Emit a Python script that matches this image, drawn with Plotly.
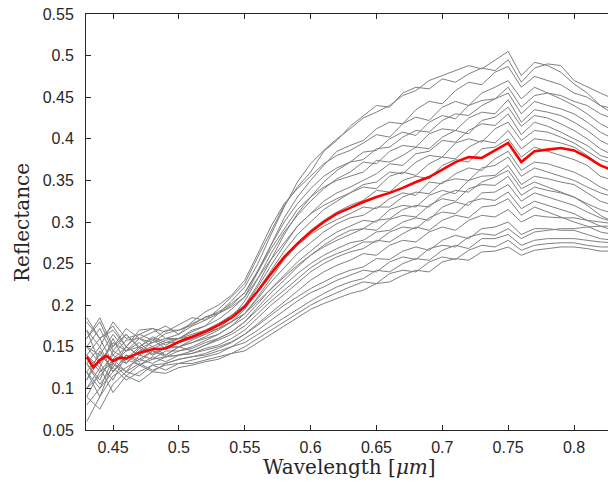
import plotly.graph_objects as go

# Wavelength grid (um) for the individual spectra
wavelength = [0.43, 0.44, 0.45, 0.46, 0.47, 0.48, 0.49, 0.50, 0.51, 0.52,
              0.53, 0.54, 0.55, 0.56, 0.57, 0.58, 0.59, 0.60, 0.61, 0.62,
              0.63, 0.64, 0.65, 0.66, 0.67, 0.68, 0.69, 0.70, 0.71, 0.72,
              0.73, 0.74, 0.75, 0.76, 0.77, 0.78, 0.79, 0.80, 0.81, 0.82, 0.83]

# Individual reflectance spectra (grey)
spectrum_01 = [0.150,0.172,0.140,0.158,0.160,0.155,0.166,0.170,0.176,0.186,0.190,0.205,0.222,0.250,0.285,0.318,0.348,0.370,0.386,0.400,0.412,0.425,0.432,0.440,0.452,0.458,0.470,0.476,0.482,0.488,0.484,0.495,0.505,0.476,0.492,0.488,0.480,0.466,0.455,0.440,0.430]
spectrum_02 = [0.180,0.160,0.175,0.150,0.170,0.172,0.168,0.176,0.185,0.182,0.195,0.210,0.226,0.258,0.290,0.320,0.342,0.360,0.385,0.398,0.415,0.428,0.440,0.438,0.455,0.462,0.460,0.472,0.468,0.478,0.485,0.482,0.495,0.468,0.485,0.490,0.488,0.470,0.462,0.455,0.448]
spectrum_03 = [0.120,0.140,0.165,0.145,0.150,0.160,0.152,0.160,0.168,0.175,0.183,0.195,0.210,0.240,0.272,0.305,0.330,0.350,0.368,0.385,0.392,0.398,0.412,0.420,0.418,0.435,0.445,0.442,0.458,0.468,0.465,0.480,0.487,0.462,0.475,0.470,0.465,0.455,0.450,0.440,0.436]
spectrum_04 = [0.160,0.185,0.150,0.172,0.160,0.168,0.175,0.165,0.180,0.192,0.200,0.212,0.230,0.262,0.295,0.322,0.340,0.355,0.370,0.380,0.386,0.395,0.405,0.402,0.418,0.426,0.422,0.438,0.445,0.440,0.455,0.462,0.470,0.448,0.462,0.455,0.448,0.440,0.430,0.418,0.410]
spectrum_05 = [0.130,0.110,0.145,0.135,0.150,0.142,0.150,0.155,0.162,0.170,0.176,0.188,0.200,0.225,0.255,0.285,0.310,0.330,0.348,0.362,0.372,0.384,0.386,0.400,0.408,0.404,0.420,0.428,0.424,0.440,0.446,0.448,0.462,0.438,0.452,0.455,0.452,0.445,0.440,0.430,0.424]
spectrum_06 = [0.170,0.150,0.180,0.160,0.165,0.158,0.170,0.170,0.178,0.185,0.192,0.202,0.215,0.242,0.272,0.300,0.322,0.340,0.355,0.365,0.372,0.375,0.388,0.390,0.402,0.410,0.408,0.422,0.430,0.428,0.440,0.448,0.455,0.430,0.445,0.440,0.436,0.430,0.420,0.408,0.400]
spectrum_07 = [0.140,0.125,0.160,0.130,0.145,0.150,0.140,0.150,0.158,0.165,0.172,0.185,0.205,0.232,0.262,0.288,0.308,0.325,0.340,0.352,0.360,0.372,0.370,0.385,0.392,0.390,0.406,0.412,0.410,0.425,0.432,0.430,0.447,0.420,0.435,0.432,0.428,0.420,0.410,0.398,0.390]
spectrum_08 = [0.110,0.135,0.150,0.165,0.148,0.155,0.160,0.160,0.170,0.175,0.190,0.200,0.215,0.240,0.268,0.292,0.315,0.330,0.342,0.350,0.355,0.360,0.374,0.372,0.380,0.390,0.388,0.402,0.410,0.406,0.422,0.426,0.438,0.415,0.428,0.425,0.418,0.410,0.400,0.388,0.380]
spectrum_09 = [0.150,0.140,0.125,0.150,0.140,0.158,0.148,0.155,0.160,0.168,0.175,0.185,0.200,0.222,0.248,0.272,0.295,0.310,0.325,0.335,0.342,0.350,0.358,0.370,0.368,0.382,0.385,0.398,0.396,0.410,0.418,0.416,0.430,0.405,0.420,0.415,0.408,0.400,0.392,0.380,0.375]
spectrum_10 = [0.090,0.120,0.140,0.130,0.148,0.140,0.150,0.150,0.155,0.162,0.170,0.180,0.195,0.218,0.242,0.265,0.285,0.300,0.315,0.325,0.335,0.345,0.348,0.360,0.358,0.372,0.380,0.378,0.395,0.400,0.396,0.412,0.420,0.398,0.410,0.408,0.402,0.395,0.385,0.375,0.370]
spectrum_11 = [0.185,0.160,0.170,0.150,0.165,0.172,0.160,0.165,0.175,0.182,0.190,0.198,0.210,0.232,0.255,0.275,0.295,0.310,0.320,0.328,0.335,0.342,0.340,0.355,0.360,0.356,0.370,0.378,0.376,0.390,0.398,0.395,0.410,0.388,0.400,0.398,0.395,0.390,0.380,0.368,0.360]
spectrum_12 = [0.130,0.150,0.120,0.140,0.135,0.145,0.138,0.145,0.150,0.158,0.165,0.175,0.190,0.210,0.232,0.255,0.275,0.290,0.302,0.312,0.320,0.326,0.338,0.336,0.350,0.355,0.352,0.368,0.375,0.372,0.388,0.390,0.400,0.378,0.390,0.385,0.380,0.375,0.368,0.355,0.350]
spectrum_13 = [0.170,0.130,0.155,0.145,0.160,0.150,0.158,0.160,0.165,0.170,0.178,0.188,0.200,0.218,0.238,0.255,0.272,0.285,0.295,0.303,0.310,0.318,0.316,0.328,0.335,0.332,0.348,0.346,0.358,0.365,0.362,0.376,0.385,0.362,0.372,0.370,0.365,0.360,0.352,0.342,0.335]
spectrum_14 = [0.100,0.115,0.135,0.150,0.140,0.148,0.155,0.155,0.160,0.165,0.172,0.180,0.190,0.208,0.228,0.245,0.262,0.275,0.288,0.298,0.305,0.308,0.318,0.318,0.330,0.336,0.334,0.348,0.352,0.350,0.365,0.368,0.378,0.355,0.365,0.360,0.355,0.350,0.342,0.335,0.330]
spectrum_15 = [0.140,0.160,0.130,0.145,0.155,0.140,0.148,0.150,0.155,0.160,0.165,0.175,0.185,0.202,0.220,0.236,0.252,0.265,0.278,0.288,0.295,0.302,0.300,0.315,0.320,0.318,0.332,0.338,0.334,0.350,0.355,0.356,0.368,0.345,0.355,0.352,0.348,0.345,0.335,0.325,0.320]
spectrum_16 = [0.080,0.100,0.120,0.135,0.128,0.135,0.138,0.140,0.145,0.152,0.160,0.168,0.180,0.198,0.215,0.230,0.246,0.260,0.272,0.282,0.290,0.292,0.302,0.304,0.315,0.320,0.318,0.332,0.338,0.336,0.348,0.354,0.362,0.340,0.348,0.342,0.336,0.330,0.322,0.315,0.310]
spectrum_17 = [0.160,0.180,0.145,0.165,0.150,0.162,0.155,0.160,0.162,0.168,0.172,0.180,0.190,0.205,0.220,0.234,0.248,0.260,0.270,0.278,0.285,0.292,0.290,0.303,0.308,0.306,0.320,0.328,0.325,0.340,0.345,0.344,0.355,0.332,0.342,0.338,0.335,0.330,0.320,0.308,0.300]
spectrum_18 = [0.120,0.090,0.130,0.120,0.140,0.135,0.145,0.145,0.148,0.155,0.160,0.168,0.180,0.195,0.210,0.224,0.238,0.250,0.260,0.268,0.275,0.278,0.288,0.290,0.300,0.305,0.302,0.318,0.324,0.320,0.335,0.336,0.345,0.325,0.335,0.330,0.325,0.320,0.312,0.305,0.300]
spectrum_19 = [0.150,0.130,0.110,0.140,0.132,0.145,0.140,0.150,0.145,0.152,0.158,0.165,0.175,0.190,0.205,0.218,0.232,0.245,0.255,0.262,0.268,0.276,0.276,0.288,0.294,0.292,0.305,0.312,0.310,0.324,0.328,0.326,0.336,0.316,0.325,0.320,0.315,0.310,0.302,0.295,0.290]
spectrum_20 = [0.060,0.090,0.115,0.125,0.135,0.130,0.138,0.140,0.142,0.148,0.152,0.160,0.170,0.185,0.200,0.213,0.226,0.240,0.250,0.258,0.264,0.268,0.278,0.276,0.286,0.294,0.290,0.302,0.308,0.305,0.318,0.320,0.328,0.308,0.318,0.312,0.306,0.300,0.295,0.288,0.285]
spectrum_21 = [0.140,0.120,0.130,0.115,0.128,0.120,0.130,0.135,0.138,0.142,0.148,0.155,0.165,0.178,0.192,0.205,0.218,0.230,0.240,0.248,0.254,0.262,0.260,0.272,0.278,0.276,0.288,0.294,0.290,0.302,0.308,0.306,0.315,0.300,0.308,0.306,0.305,0.305,0.302,0.300,0.298]
spectrum_22 = [0.110,0.145,0.120,0.140,0.128,0.138,0.132,0.140,0.142,0.146,0.150,0.156,0.165,0.176,0.188,0.200,0.210,0.220,0.228,0.236,0.242,0.246,0.256,0.255,0.265,0.270,0.266,0.278,0.284,0.280,0.292,0.294,0.300,0.285,0.292,0.292,0.290,0.290,0.285,0.280,0.278]
spectrum_23 = [0.130,0.105,0.125,0.110,0.120,0.128,0.122,0.130,0.134,0.138,0.142,0.150,0.160,0.170,0.182,0.194,0.205,0.215,0.222,0.230,0.236,0.242,0.240,0.252,0.258,0.255,0.268,0.272,0.270,0.282,0.286,0.284,0.292,0.280,0.288,0.290,0.292,0.292,0.294,0.295,0.295]
spectrum_24 = [0.090,0.075,0.105,0.120,0.115,0.128,0.130,0.135,0.138,0.140,0.145,0.150,0.155,0.165,0.175,0.186,0.196,0.205,0.214,0.222,0.228,0.232,0.242,0.240,0.250,0.256,0.254,0.266,0.272,0.268,0.280,0.280,0.285,0.272,0.278,0.280,0.280,0.280,0.278,0.276,0.275]
spectrum_25 = [0.100,0.125,0.095,0.115,0.108,0.120,0.118,0.125,0.128,0.132,0.135,0.142,0.150,0.160,0.170,0.180,0.190,0.200,0.208,0.215,0.222,0.228,0.226,0.238,0.242,0.240,0.252,0.258,0.255,0.266,0.272,0.270,0.278,0.266,0.272,0.274,0.275,0.275,0.272,0.270,0.270]
spectrum_26 = [0.120,0.100,0.135,0.120,0.130,0.122,0.128,0.130,0.130,0.134,0.138,0.142,0.145,0.155,0.165,0.175,0.185,0.195,0.202,0.208,0.214,0.218,0.226,0.228,0.236,0.242,0.240,0.252,0.256,0.254,0.264,0.265,0.270,0.260,0.266,0.268,0.270,0.270,0.268,0.265,0.265]

spectra = [spectrum_01, spectrum_02, spectrum_03, spectrum_04, spectrum_05, spectrum_06,
           spectrum_07, spectrum_08, spectrum_09, spectrum_10, spectrum_11, spectrum_12,
           spectrum_13, spectrum_14, spectrum_15, spectrum_16, spectrum_17, spectrum_18,
           spectrum_19, spectrum_20, spectrum_21, spectrum_22, spectrum_23, spectrum_24,
           spectrum_25, spectrum_26]

# Mean spectrum (red)
mean_wavelength = [0.43, 0.435, 0.44, 0.445, 0.45, 0.455, 0.46, 0.47, 0.48, 0.49,
                   0.50, 0.51, 0.52, 0.53, 0.54, 0.55, 0.56, 0.57, 0.58, 0.59,
                   0.60, 0.61, 0.62, 0.63, 0.64, 0.65, 0.66, 0.67, 0.68, 0.69,
                   0.70, 0.71, 0.72, 0.73, 0.74, 0.75, 0.76, 0.77, 0.78, 0.79,
                   0.80, 0.81, 0.82, 0.83]
mean_reflectance = [0.138, 0.125, 0.134, 0.139, 0.133, 0.137, 0.136, 0.143, 0.147, 0.148,
                    0.156, 0.162, 0.168, 0.176, 0.185, 0.198, 0.217, 0.238, 0.258, 0.274,
                    0.288, 0.300, 0.310, 0.317, 0.324, 0.330, 0.335, 0.341, 0.348, 0.354,
                    0.363, 0.372, 0.378, 0.377, 0.386, 0.395, 0.372, 0.385, 0.387, 0.389,
                    0.386, 0.378, 0.368, 0.362]

y_ticks = [0.05, 0.1, 0.15, 0.2, 0.25, 0.3, 0.35, 0.4, 0.45, 0.5, 0.55]
y_tick_labels = ["0.05", "0.1", "0.15", "0.2", "0.25", "0.3", "0.35", "0.4", "0.45", "0.5", "0.55"]
x_ticks = [0.45, 0.5, 0.55, 0.6, 0.65, 0.7, 0.75, 0.8]
x_tick_labels = ["0.45", "0.5", "0.55", "0.6", "0.65", "0.7", "0.75", "0.8"]

fig = go.Figure()
for s in spectra:
    fig.add_trace(go.Scatter(x=wavelength, y=s, mode="lines",
                             line=dict(color="rgb(128,128,128)", width=1),
                             showlegend=False, hoverinfo="skip"))
fig.add_trace(go.Scatter(x=mean_wavelength, y=mean_reflectance, mode="lines",
                         line=dict(color="rgb(255,0,0)", width=2.6),
                         showlegend=False))

axis_color = "#262626"
tick_font = dict(family="Liberation Sans, Arial, sans-serif", size=16, color=axis_color)
title_font = dict(family="DejaVu Serif, serif", size=20, color=axis_color)

fig.update_layout(
    width=608, height=484,
    margin=dict(l=86, r=0, t=14, b=54),
    paper_bgcolor="white", plot_bgcolor="white",
    xaxis=dict(range=[0.4295, 0.8258], tickvals=x_ticks, ticktext=x_tick_labels,
               ticks="inside", ticklen=5, tickcolor=axis_color, tickwidth=1,
               showline=True, linecolor=axis_color, linewidth=1, mirror="ticks",
               showgrid=False, zeroline=False, tickfont=tick_font,
               ticklabelstandoff=3, ticklabeloverflow="allow", automargin=False),
    yaxis=dict(range=[0.05, 0.55], tickvals=y_ticks, ticktext=y_tick_labels,
               ticks="inside", ticklen=5, tickcolor=axis_color, tickwidth=1,
               showline=True, linecolor=axis_color, linewidth=1, mirror=False,
               showgrid=False, zeroline=False, tickfont=tick_font,
               ticklabelstandoff=8, ticklabeloverflow="allow", automargin=False),
    annotations=[
        dict(text="Wavelength [<i>μm</i>]", xref="paper", yref="paper",
             x=(349 - 86) / 522, y=0, yshift=-37, xanchor="center", yanchor="middle",
             showarrow=False, font=title_font),
        dict(text="Reflectance", xref="paper", yref="paper",
             x=0, xshift=-64, y=(430 - 223) / 416, xanchor="center", yanchor="middle",
             textangle=-90, showarrow=False, font=title_font),
    ],
)

# Remove the browser's default page margin so the figure fills the window exactly.
fig.write_html("out.html",
               config={"displayModeBar": False},
               post_script="document.body.style.margin='0';document.body.style.overflow='hidden';")
